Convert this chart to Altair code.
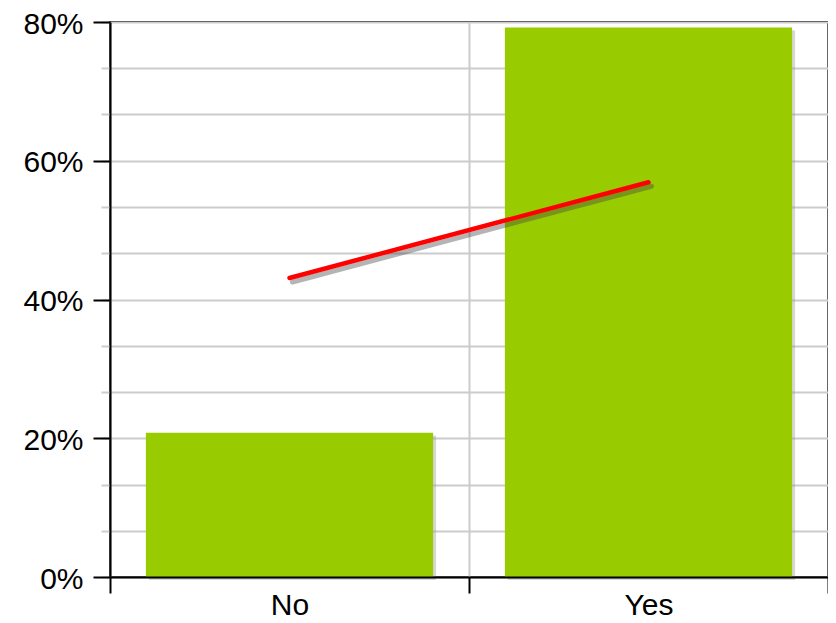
import altair as alt
import pandas as pd

categories = ["No", "Yes"]
bar_values = [0.208, 0.792]
line_values = [0.431, 0.569]

df = pd.DataFrame({"answer": categories, "share": bar_values, "trend": line_values})

minor_ticks = [0, 0.0667, 0.1333, 0.2, 0.2667, 0.3333, 0.4, 0.4667, 0.5333, 0.6, 0.6667, 0.7333, 0.8]
major_ticks = [0, 0.2, 0.4, 0.6, 0.8]

FONT = "Liberation Sans"

xscale = alt.Scale(domain=categories, paddingInner=0, paddingOuter=0)
yscale = alt.Scale(domain=[0, 0.8], nice=False)

grid_x_axis = alt.Axis(title=None, labels=False, ticks=False, domain=False, grid=True,
                       tickBand="extent", gridColor="#cccccc", gridWidth=2, zindex=0,
                       orient="bottom")
grid_y_axis = alt.Axis(title=None, labels=False, ticks=True, tickSize=9, tickColor="#cccccc",
                       tickWidth=2, domain=False, grid=True, values=minor_ticks,
                       gridColor="#cccccc", gridWidth=2, zindex=0, orient="left")

main_x_axis = alt.Axis(title=None, grid=False, domain=True, domainColor="black", domainWidth=2,
                       ticks=True, tickBand="extent", tickColor="black", tickWidth=2, tickSize=16,
                       labelFont=FONT, labelFontSize=30, labelColor="black", labelPadding=-3,
                       labelAngle=0, zindex=1, orient="bottom")
main_y_axis = alt.Axis(title=None, grid=False, domain=True, domainColor="black", domainWidth=2,
                       ticks=True, tickColor="black", tickWidth=2, tickSize=17, values=major_ticks,
                       format=".0%", labelFont=FONT, labelFontSize=30, labelColor="black",
                       labelPadding=10, labelOffset=2, zindex=1, orient="left")

base = alt.Chart(df)
bw = alt.RelativeBandSize(0.8)

bar_shadow = base.mark_bar(color="#999999", opacity=0.4, xOffset=3, yOffset=3, width=bw).encode(
    x=alt.X("answer:N", scale=xscale, axis=grid_x_axis),
    y=alt.Y("share:Q", scale=yscale, axis=grid_y_axis),
)
bars = base.mark_bar(color="#99cc00", width=bw).encode(
    x=alt.X("answer:N", scale=xscale, axis=None),
    y=alt.Y("share:Q", scale=yscale, axis=None),
)
line_shadow = base.mark_line(color="#444444", opacity=0.4, strokeWidth=5, xOffset=3, yOffset=4,
                             strokeCap="round").encode(
    x=alt.X("answer:N", scale=xscale, axis=None),
    y=alt.Y("trend:Q", scale=yscale, axis=None),
)
line = base.mark_line(color="#ff0000", strokeWidth=4.5, strokeCap="round").encode(
    x=alt.X("answer:N", scale=xscale, axis=main_x_axis),
    y=alt.Y("trend:Q", scale=yscale, axis=main_y_axis),
)

chart = alt.layer(bar_shadow, bars, line_shadow, line).resolve_axis(
    x="independent", y="independent"
).properties(
    width=718, height=555,
    autosize=alt.AutoSizeParams(type="none"),
    padding={"left": 102, "top": 14, "right": 0, "bottom": 44},
).configure_view(stroke="black", strokeWidth=2)

chart.save("out.html", embed_options={"renderer": "svg", "actions": False})
